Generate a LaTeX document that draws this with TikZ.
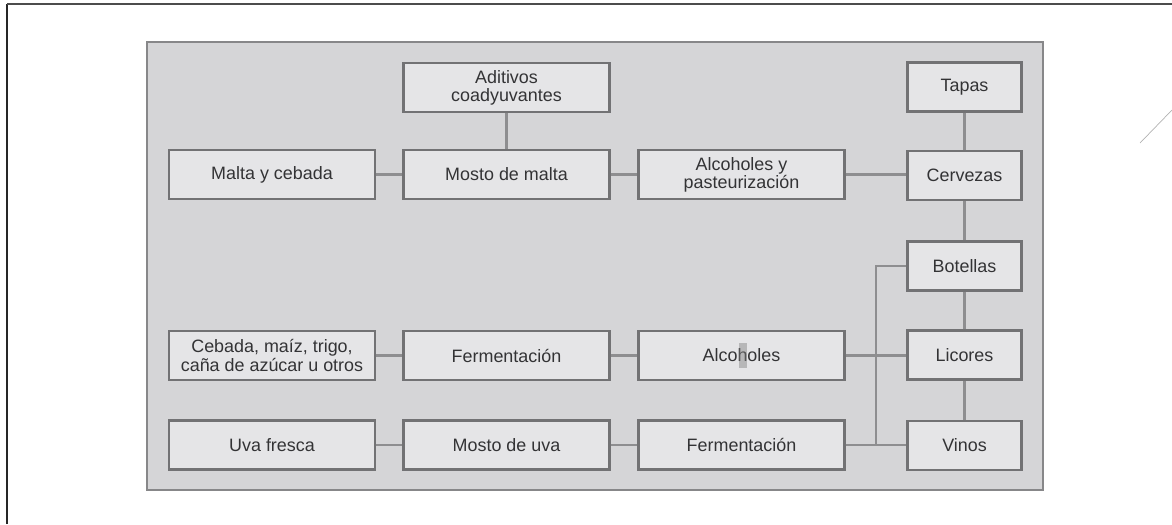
\documentclass[tikz,border=0pt]{standalone}
\usepackage{fontspec}
\setmainfont{Liberation Sans}
\definecolor{boxfill}{HTML}{E5E5E7}
\definecolor{panelfill}{HTML}{D5D5D7}
\definecolor{edge}{HTML}{727274}
\definecolor{wire}{HTML}{8E8E90}
\definecolor{txt}{HTML}{333335}
\tikzset{
  box/.style={draw=edge, line width=1.3pt, fill=boxfill, rectangle, inner sep=1pt,
    minimum width=4.12cm, minimum height=0.98cm, align=center, text=txt,
    font=\fontsize{10.2}{10.3}\selectfont},
  smallbox/.style={box, minimum width=2.28cm},
  wireline/.style={draw=wire, line width=1.2pt}
}
\begin{document}
\begin{tikzpicture}[x=0.02cm, y=-0.02cm]
\useasboundingbox (0,0) rectangle (1172,524);
% page frame
\draw[line width=1.3pt, draw=black!85] (7,524) -- (7,4);
\draw[line width=0.8pt, draw=black!70] (7,4) -- (1172,4);
\draw[line width=0.4pt, draw=black!30] (1140,143) -- (1172,110);
% panel
\draw[draw=edge!85, line width=1.3pt, fill=panelfill] (147,42) rectangle (1043,490);
% nodes
\node[box] (adit) at (506.5,87.5) {Aditivos\\coadyuvantes};
\node[box] (malta) at (272,174.5) {Malta y cebada};
\node[box] (mostom) at (506.5,174.5) {Mosto de malta};
\node[box] (alcp) at (741.5,174.5) {Alcoholes y\\pasteurización};
\node[box] (ceb) at (272,355.5) {Cebada, maíz, trigo,\\caña de azúcar u otros};
\node[box] (ferm1) at (506.5,355.5) {Fermentación};
\node[box] (alc) at (741.5,355.5) {Alcoholes};
\node[box] (uva) at (272,445) {Uva fresca};
\node[box] (mostou) at (506.5,445) {Mosto de uva};
\node[box] (ferm2) at (741.5,445) {Fermentación};
\node[smallbox] (tapas) at (964.5,87) {Tapas};
\node[smallbox] (cerv) at (964.5,175.5) {Cervezas};
\node[smallbox] (bot) at (964.5,266) {Botellas};
\node[smallbox] (lic) at (964.5,355) {Licores};
\node[smallbox] (vin) at (964.5,445.5) {Vinos};
% highlight artifact
\fill[gray, opacity=0.45] (739,343) rectangle (747,368);
% connectors
\coordinate (tt) at (876,266);
\coordinate (tb) at (876,445.5);
\draw[wireline] (adit) -- (mostom);
\draw[wireline] (malta) -- (mostom);
\draw[wireline] (mostom) -- (alcp);
\draw[wireline] (alcp.east) -- (cerv.west |- alcp.east);
\draw[wireline] (tapas) -- (cerv);
\draw[wireline] (cerv) -- (bot);
\draw[wireline] (bot) -- (lic);
\draw[wireline] (lic) -- (vin);
\draw[wireline] (ceb) -- (ferm1);
\draw[wireline] (ferm1) -- (alc);
\draw[wireline] (alc.east) -- (lic.west |- alc.east);
\draw[wireline] (uva) -- (mostou);
\draw[wireline] (mostou) -- (ferm2);
\draw[wireline] (ferm2.east) -- (vin.west |- ferm2.east);
\draw[wireline] (bot.west) -- (tt) -- (tb);
\end{tikzpicture}
\end{document}
